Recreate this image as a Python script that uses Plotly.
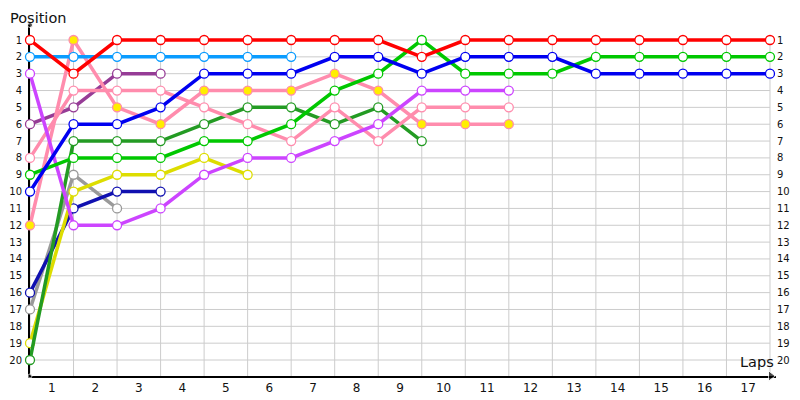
import plotly.graph_objects as go

laps_labels = [str(i) for i in range(1, 18)]
positions = list(range(1, 21))

red = [1, 3, 1, 1, 1, 1, 1, 1, 1, 2, 1, 1, 1, 1, 1, 1, 1, 1]
light_blue = [2, 2, 2, 2, 2, 2, 2]
blue = [10, 6, 6, 5, 3, 3, 3, 2, 2, 3, 2, 2, 2, 3, 3, 3, 3, 3]
green = [9, 8, 8, 8, 7, 7, 6, 4, 3, 1, 3, 3, 3, 2, 2, 2, 2, 2]
purple = [6, 5, 3, 3]
magenta = [3, 12, 12, 11, 9, 8, 8, 7, 6, 4, 4, 4]
pink_a = [12, 1, 5, 6, 4, 4, 4, 3, 4, 6, 6, 6]
pink_b = [8, 4, 4, 4, 5, 6, 7, 5, 7, 5, 5, 5]
dark_green = [20, 7, 7, 7, 6, 5, 5, 6, 5, 7]
yellow = [19, 10, 9, 9, 8, 9]
gray = [17, 9, 11]
navy = [16, 11, 10, 10]

series = [
    (gray, '#9A9A9A', 'white'),
    (navy, '#1010B0', 'white'),
    (yellow, '#DDDD00', 'white'),
    (dark_green, '#239B23', 'white'),
    (purple, '#963C96', 'white'),
    (pink_b, '#FF8CAD', 'white'),
    (pink_a, '#FF8CAD', '#FFEE00'),
    (magenta, '#CC44FF', 'white'),
    (green, '#00C800', 'white'),
    (light_blue, '#0A9CFF', 'white'),
    (blue, '#0000F0', 'white'),
    (red, '#FF0000', 'white'),
]

X_MAX = 17.138
Y_TOP = 0.109
Y_BOT = 20.95

fig = go.Figure()
for vals, col, fill in series:
    fig.add_trace(go.Scatter(
        x=list(range(len(vals))), y=vals, mode='lines+markers',
        line=dict(color=col, width=3.5),
        marker=dict(size=9, color=fill, line=dict(color=col, width=1.3)),
        cliponaxis=False, showlegend=False, hoverinfo='skip'))

# axis decorations
fig.add_trace(go.Scatter(
    x=[0, 0, X_MAX - 0.12], y=[Y_TOP, Y_BOT, Y_BOT], mode='markers',
    marker=dict(symbol=['circle', 'circle', 'triangle-right'], size=[5, 4, 9], color='black'),
    cliponaxis=False, showlegend=False, hoverinfo='skip'))
fig.add_trace(go.Scatter(x=[0], y=[1], yaxis='y2', mode='markers',
                         marker=dict(opacity=0), showlegend=False, hoverinfo='skip'))

shapes = []
for p in positions:
    shapes.append(dict(type='line', xref='x', yref='y', x0=0, x1=17, y0=p, y1=p,
                       line=dict(color='#CCCCCC', width=1), layer='below'))
for k in range(0, 18):
    shapes.append(dict(type='line', xref='x', yref='y', x0=k, x1=k, y0=0.72, y1=Y_BOT,
                       line=dict(color='#CCCCCC', width=1), layer='below'))

fig.update_layout(
    width=792, height=392,
    margin=dict(l=22, r=24, t=17, b=24, autoexpand=False),
    paper_bgcolor='white', plot_bgcolor='white',
    shapes=shapes,
    xaxis=dict(range=[0, X_MAX], showgrid=False, zeroline=False, automargin=False,
               tickvals=[i + 0.5 for i in range(17)], ticktext=laps_labels,
               ticks='', showline=True, linecolor='black', linewidth=2,
               layer='below traces',
               tickfont=dict(family='DejaVu Sans', size=12, color='#111')),
    yaxis=dict(range=[Y_BOT, Y_TOP], showgrid=False, zeroline=False, automargin=False,
               tickvals=positions, ticktext=[str(p) for p in positions],
               ticks='', showline=True, linecolor='black', linewidth=2,
               ticklabelstandoff=4, layer='below traces',
               tickfont=dict(family='DejaVu Sans', size=10, color='#111')),
    yaxis2=dict(range=[Y_BOT, Y_TOP], overlaying='y', side='right', showgrid=False,
                zeroline=False, automargin=False, tickvals=positions,
                ticktext=[str(p) for p in positions],
                ticks='', showline=False,
                tickfont=dict(family='DejaVu Sans', size=10, color='#111')),
    annotations=[
        dict(text='Position', xref='paper', yref='paper', x=-0.0295, y=1.048,
             xanchor='left', yanchor='top', showarrow=False,
             font=dict(family='DejaVu Sans', size=14.5, color='#111')),
        dict(text='Laps', xref='paper', yref='paper', x=1.0, y=0.04,
             xanchor='right', yanchor='middle', showarrow=False,
             font=dict(family='DejaVu Sans', size=14.5, color='#111')),
    ],
)

fig.write_html('out.html')
